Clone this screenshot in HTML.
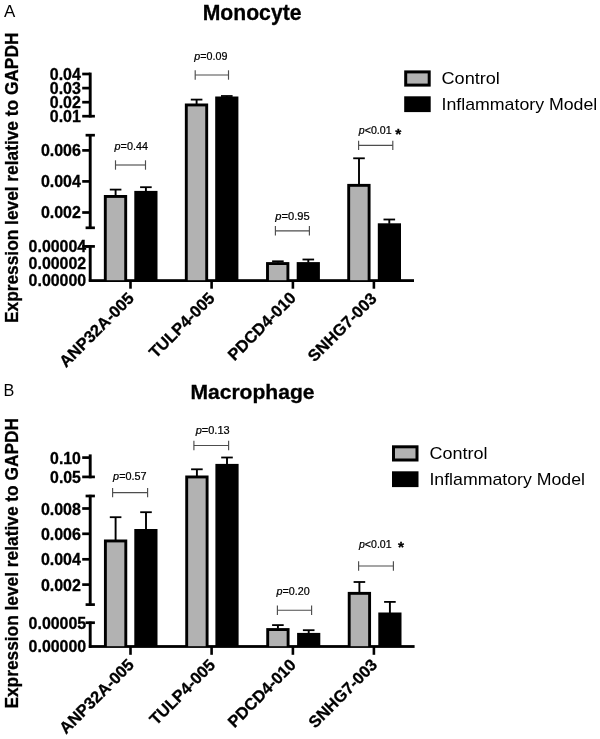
<!DOCTYPE html>
<html><head><meta charset="utf-8"><title>Expression level charts</title>
<style>
html,body{margin:0;padding:0;background:#fff;}
body{width:600px;height:739px;overflow:hidden;}
svg{display:block;font-family:"Liberation Sans",sans-serif;}
</style></head><body>
<svg width="600" height="739" viewBox="0 0 600 739">
<rect width="600" height="739" fill="#fff"/>
<text class="t1" x="3.90" y="16.70" font-size="16.9" fill="#000">A</text>
<text class="t2" x="202.70" y="20.00" font-size="21.4" font-weight="bold" stroke="#000" stroke-width="0.3" textLength="98.80" lengthAdjust="spacingAndGlyphs" fill="#000">Monocyte</text>
<text class="t3" x="17.60" y="323.00" font-size="17.6" font-weight="bold" stroke="#000" stroke-width="0.3" textLength="290.40" lengthAdjust="spacingAndGlyphs" transform="rotate(-90 17.6 323)" fill="#000">Expression level relative to GAPDH</text>
<rect x="88.75" y="72.60" width="2.90" height="44.90" fill="#000"/>
<rect x="82.20" y="72.65" width="8.00" height="2.70" fill="#000"/>
<rect x="82.20" y="86.75" width="8.00" height="2.70" fill="#000"/>
<rect x="82.20" y="100.85" width="8.00" height="2.70" fill="#000"/>
<rect x="82.20" y="114.85" width="8.00" height="2.70" fill="#000"/>
<rect x="90.20" y="114.85" width="4.70" height="2.70" fill="#000"/>
<rect x="88.75" y="134.00" width="2.90" height="95.00" fill="#000"/>
<rect x="85.60" y="133.85" width="9.30" height="2.70" fill="#000"/>
<rect x="85.60" y="226.45" width="9.30" height="2.70" fill="#000"/>
<rect x="82.20" y="149.05" width="8.00" height="2.70" fill="#000"/>
<rect x="82.20" y="180.05" width="8.00" height="2.70" fill="#000"/>
<rect x="82.20" y="211.15" width="8.00" height="2.70" fill="#000"/>
<rect x="88.75" y="245.20" width="2.90" height="36.30" fill="#000"/>
<rect x="85.60" y="245.05" width="9.30" height="2.70" fill="#000"/>
<rect x="82.20" y="245.05" width="8.00" height="2.70" fill="#000"/>
<rect x="88.80" y="279.20" width="325.20" height="2.80" fill="#000"/>
<rect x="129.20" y="281.00" width="2.60" height="7.70" fill="#000"/>
<rect x="210.30" y="281.00" width="2.60" height="7.70" fill="#000"/>
<rect x="291.60" y="281.00" width="2.60" height="7.70" fill="#000"/>
<rect x="372.60" y="281.00" width="2.60" height="7.70" fill="#000"/>
<text class="t4" x="80.90" y="80.20" font-size="16.0" font-weight="bold" stroke="#000" stroke-width="0.3" text-anchor="end" textLength="31.10" lengthAdjust="spacingAndGlyphs" fill="#000">0.04</text>
<text class="t5" x="80.90" y="94.30" font-size="16.0" font-weight="bold" stroke="#000" stroke-width="0.3" text-anchor="end" textLength="31.10" lengthAdjust="spacingAndGlyphs" fill="#000">0.03</text>
<text class="t6" x="80.90" y="108.40" font-size="16.0" font-weight="bold" stroke="#000" stroke-width="0.3" text-anchor="end" textLength="31.10" lengthAdjust="spacingAndGlyphs" fill="#000">0.02</text>
<text class="t7" x="80.90" y="122.40" font-size="16.0" font-weight="bold" stroke="#000" stroke-width="0.3" text-anchor="end" textLength="31.10" lengthAdjust="spacingAndGlyphs" fill="#000">0.01</text>
<text class="t8" x="80.90" y="156.40" font-size="16.0" font-weight="bold" stroke="#000" stroke-width="0.3" text-anchor="end" textLength="40.00" lengthAdjust="spacingAndGlyphs" fill="#000">0.006</text>
<text class="t9" x="80.90" y="187.40" font-size="16.0" font-weight="bold" stroke="#000" stroke-width="0.3" text-anchor="end" textLength="40.00" lengthAdjust="spacingAndGlyphs" fill="#000">0.004</text>
<text class="t10" x="80.90" y="218.40" font-size="16.0" font-weight="bold" stroke="#000" stroke-width="0.3" text-anchor="end" textLength="40.00" lengthAdjust="spacingAndGlyphs" fill="#000">0.002</text>
<text class="t11" x="86.20" y="252.20" font-size="16.0" font-weight="bold" stroke="#000" stroke-width="0.3" text-anchor="end" textLength="57.60" lengthAdjust="spacingAndGlyphs" fill="#000">0.00004</text>
<text class="t12" x="86.20" y="269.20" font-size="16.0" font-weight="bold" stroke="#000" stroke-width="0.3" text-anchor="end" textLength="57.60" lengthAdjust="spacingAndGlyphs" fill="#000">0.00002</text>
<text class="t13" x="86.20" y="285.60" font-size="16.0" font-weight="bold" stroke="#000" stroke-width="0.3" text-anchor="end" textLength="57.60" lengthAdjust="spacingAndGlyphs" fill="#000">0.00000</text>
<rect x="103.85" y="195.00" width="23.30" height="85.20" fill="#000"/>
<rect x="106.75" y="197.90" width="17.50" height="82.30" fill="#b2b2b2"/>
<rect x="114.65" y="189.60" width="1.90" height="5.90" fill="#000"/>
<rect x="109.80" y="188.70" width="11.60" height="1.80" fill="#000"/>
<rect x="134.30" y="190.90" width="23.20" height="89.30" fill="#000"/>
<rect x="144.95" y="187.20" width="1.90" height="4.20" fill="#000"/>
<rect x="140.10" y="186.30" width="11.60" height="1.80" fill="#000"/>
<rect x="184.85" y="103.50" width="23.30" height="176.70" fill="#000"/>
<rect x="187.75" y="106.40" width="17.50" height="173.80" fill="#b2b2b2"/>
<rect x="195.65" y="99.60" width="1.90" height="4.40" fill="#000"/>
<rect x="190.80" y="98.70" width="11.60" height="1.80" fill="#000"/>
<rect x="215.20" y="96.50" width="23.20" height="183.70" fill="#000"/>
<rect x="225.85" y="96.00" width="1.90" height="1.00" fill="#000"/>
<rect x="221.00" y="95.10" width="11.60" height="1.80" fill="#000"/>
<rect x="266.05" y="262.10" width="23.30" height="18.10" fill="#000"/>
<rect x="268.95" y="265.00" width="17.50" height="15.20" fill="#b2b2b2"/>
<rect x="276.95" y="261.30" width="1.90" height="1.30" fill="#000"/>
<rect x="272.10" y="260.40" width="11.60" height="1.80" fill="#000"/>
<rect x="296.70" y="262.10" width="23.20" height="18.10" fill="#000"/>
<rect x="307.35" y="259.50" width="1.90" height="3.10" fill="#000"/>
<rect x="302.50" y="258.60" width="11.60" height="1.80" fill="#000"/>
<rect x="347.25" y="183.90" width="23.30" height="96.30" fill="#000"/>
<rect x="350.15" y="186.80" width="17.50" height="93.40" fill="#b2b2b2"/>
<rect x="358.05" y="158.30" width="1.90" height="26.10" fill="#000"/>
<rect x="353.20" y="157.40" width="11.60" height="1.80" fill="#000"/>
<rect x="377.80" y="223.30" width="23.20" height="56.90" fill="#000"/>
<rect x="388.35" y="219.50" width="1.90" height="4.30" fill="#000"/>
<rect x="383.50" y="218.60" width="11.60" height="1.80" fill="#000"/>
<line x1="115.50" y1="165.00" x2="145.50" y2="165.00" stroke="#4d4d4d" stroke-width="1.15"/>
<line x1="115.50" y1="160.30" x2="115.50" y2="169.70" stroke="#4d4d4d" stroke-width="1.15"/>
<line x1="145.50" y1="160.30" x2="145.50" y2="169.70" stroke="#4d4d4d" stroke-width="1.15"/>
<line x1="195.20" y1="75.00" x2="228.50" y2="75.00" stroke="#4d4d4d" stroke-width="1.15"/>
<line x1="195.20" y1="70.30" x2="195.20" y2="79.70" stroke="#4d4d4d" stroke-width="1.15"/>
<line x1="228.50" y1="70.30" x2="228.50" y2="79.70" stroke="#4d4d4d" stroke-width="1.15"/>
<line x1="275.40" y1="230.80" x2="309.40" y2="230.80" stroke="#4d4d4d" stroke-width="1.15"/>
<line x1="275.40" y1="226.10" x2="275.40" y2="235.50" stroke="#4d4d4d" stroke-width="1.15"/>
<line x1="309.40" y1="226.10" x2="309.40" y2="235.50" stroke="#4d4d4d" stroke-width="1.15"/>
<line x1="358.60" y1="145.40" x2="392.80" y2="145.40" stroke="#4d4d4d" stroke-width="1.15"/>
<line x1="358.60" y1="140.70" x2="358.60" y2="150.10" stroke="#4d4d4d" stroke-width="1.15"/>
<line x1="392.80" y1="140.70" x2="392.80" y2="150.10" stroke="#4d4d4d" stroke-width="1.15"/>
<text class="pt1" x="114.60" y="149.50" font-size="10.2" fill="#000" stroke="#000" stroke-width="0.22" textLength="33.30" lengthAdjust="spacingAndGlyphs"><tspan font-style="italic">p</tspan>=0.44</text>
<text class="pt2" x="194.30" y="60.10" font-size="10.2" fill="#000" stroke="#000" stroke-width="0.22" textLength="33.10" lengthAdjust="spacingAndGlyphs"><tspan font-style="italic">p</tspan>=0.09</text>
<text class="pt3" x="275.30" y="220.10" font-size="10.2" fill="#000" stroke="#000" stroke-width="0.22" textLength="34.30" lengthAdjust="spacingAndGlyphs"><tspan font-style="italic">p</tspan>=0.95</text>
<text class="pt4" x="358.80" y="134.20" font-size="10.2" fill="#000" stroke="#000" stroke-width="0.22" textLength="32.80" lengthAdjust="spacingAndGlyphs"><tspan font-style="italic">p</tspan>&lt;0.01</text>
<text class="t14" x="395.20" y="139.30" font-size="15.5" font-weight="bold" stroke="#000" stroke-width="0.3" fill="#000">*</text>
<rect x="404.20" y="70.40" width="26.50" height="16.20" fill="#000"/>
<rect x="407.20" y="73.40" width="20.50" height="10.20" fill="#b2b2b2"/>
<rect x="404.20" y="96.30" width="26.50" height="15.80" fill="#000"/>
<text class="t15" x="441.50" y="84.30" font-size="16.6" textLength="58.40" lengthAdjust="spacingAndGlyphs" fill="#000">Control</text>
<text class="t16" x="441.50" y="110.10" font-size="16.6" textLength="155.80" lengthAdjust="spacingAndGlyphs" fill="#000">Inflammatory Model</text>
<text class="xl1" x="134.90" y="299.40" font-size="16.4" font-weight="bold" stroke="#000" stroke-width="0.3" text-anchor="end" transform="rotate(-45 134.90 299.40)" fill="#000">ANP32A-005</text>
<text class="xl2" x="215.60" y="299.20" font-size="16.4" font-weight="bold" stroke="#000" stroke-width="0.3" text-anchor="end" transform="rotate(-45 215.60 299.20)" fill="#000">TULP4-005</text>
<text class="xl3" x="296.90" y="298.90" font-size="16.4" font-weight="bold" stroke="#000" stroke-width="0.3" text-anchor="end" transform="rotate(-45 296.90 298.90)" fill="#000">PDCD4-010</text>
<text class="xl4" x="377.70" y="299.60" font-size="16.4" font-weight="bold" stroke="#000" stroke-width="0.3" text-anchor="end" transform="rotate(-45 377.70 299.60)" fill="#000">SNHG7-003</text>
<text class="t21" x="3.40" y="396.00" font-size="16.2" fill="#000">B</text>
<text class="t22" x="190.40" y="399.40" font-size="20.4" font-weight="bold" stroke="#000" stroke-width="0.3" textLength="124.20" lengthAdjust="spacingAndGlyphs" fill="#000">Macrophage</text>
<text class="t23" x="17.60" y="708.60" font-size="17.6" font-weight="bold" stroke="#000" stroke-width="0.3" textLength="290.60" lengthAdjust="spacingAndGlyphs" transform="rotate(-90 17.6 708.6)" fill="#000">Expression level relative to GAPDH</text>
<rect x="88.75" y="454.40" width="2.90" height="23.90" fill="#000"/>
<rect x="82.20" y="456.25" width="8.00" height="2.70" fill="#000"/>
<rect x="82.20" y="475.55" width="8.00" height="2.70" fill="#000"/>
<rect x="90.20" y="475.55" width="4.70" height="2.70" fill="#000"/>
<rect x="88.75" y="494.80" width="2.90" height="111.00" fill="#000"/>
<rect x="85.60" y="494.65" width="9.30" height="2.70" fill="#000"/>
<rect x="85.60" y="603.25" width="9.30" height="2.70" fill="#000"/>
<rect x="82.20" y="507.15" width="8.00" height="2.70" fill="#000"/>
<rect x="82.20" y="532.45" width="8.00" height="2.70" fill="#000"/>
<rect x="82.20" y="557.95" width="8.00" height="2.70" fill="#000"/>
<rect x="82.20" y="583.25" width="8.00" height="2.70" fill="#000"/>
<rect x="88.75" y="621.50" width="2.90" height="26.40" fill="#000"/>
<rect x="85.60" y="621.35" width="9.30" height="2.70" fill="#000"/>
<rect x="88.80" y="645.10" width="325.80" height="2.80" fill="#000"/>
<rect x="129.20" y="647.00" width="2.60" height="7.80" fill="#000"/>
<rect x="210.30" y="647.00" width="2.60" height="7.80" fill="#000"/>
<rect x="291.60" y="647.00" width="2.60" height="7.80" fill="#000"/>
<rect x="372.60" y="647.00" width="2.60" height="7.80" fill="#000"/>
<text class="t24" x="80.90" y="464.30" font-size="16.0" font-weight="bold" stroke="#000" stroke-width="0.3" text-anchor="end" textLength="30.80" lengthAdjust="spacingAndGlyphs" fill="#000">0.10</text>
<text class="t25" x="80.90" y="483.30" font-size="16.0" font-weight="bold" stroke="#000" stroke-width="0.3" text-anchor="end" textLength="30.80" lengthAdjust="spacingAndGlyphs" fill="#000">0.05</text>
<text class="t26" x="80.90" y="514.60" font-size="16.0" font-weight="bold" stroke="#000" stroke-width="0.3" text-anchor="end" textLength="40.00" lengthAdjust="spacingAndGlyphs" fill="#000">0.008</text>
<text class="t27" x="80.90" y="540.00" font-size="16.0" font-weight="bold" stroke="#000" stroke-width="0.3" text-anchor="end" textLength="40.00" lengthAdjust="spacingAndGlyphs" fill="#000">0.006</text>
<text class="t28" x="80.90" y="565.40" font-size="16.0" font-weight="bold" stroke="#000" stroke-width="0.3" text-anchor="end" textLength="40.00" lengthAdjust="spacingAndGlyphs" fill="#000">0.004</text>
<text class="t29" x="80.90" y="590.80" font-size="16.0" font-weight="bold" stroke="#000" stroke-width="0.3" text-anchor="end" textLength="40.00" lengthAdjust="spacingAndGlyphs" fill="#000">0.002</text>
<text class="t30" x="86.20" y="628.50" font-size="16.0" font-weight="bold" stroke="#000" stroke-width="0.3" text-anchor="end" textLength="57.60" lengthAdjust="spacingAndGlyphs" fill="#000">0.00005</text>
<text class="t31" x="86.20" y="651.80" font-size="16.0" font-weight="bold" stroke="#000" stroke-width="0.3" text-anchor="end" textLength="57.60" lengthAdjust="spacingAndGlyphs" fill="#000">0.00000</text>
<rect x="103.95" y="539.50" width="23.30" height="106.70" fill="#000"/>
<rect x="106.85" y="542.40" width="17.50" height="103.80" fill="#b2b2b2"/>
<rect x="114.65" y="517.20" width="1.90" height="22.80" fill="#000"/>
<rect x="109.80" y="516.30" width="11.60" height="1.80" fill="#000"/>
<rect x="134.30" y="529.00" width="23.20" height="117.20" fill="#000"/>
<rect x="145.05" y="512.20" width="1.90" height="17.30" fill="#000"/>
<rect x="140.20" y="511.30" width="11.60" height="1.80" fill="#000"/>
<rect x="185.25" y="475.50" width="23.30" height="170.70" fill="#000"/>
<rect x="188.15" y="478.40" width="17.50" height="167.80" fill="#b2b2b2"/>
<rect x="195.95" y="469.30" width="1.90" height="6.70" fill="#000"/>
<rect x="191.10" y="468.40" width="11.60" height="1.80" fill="#000"/>
<rect x="215.40" y="463.90" width="23.20" height="182.30" fill="#000"/>
<rect x="226.05" y="457.50" width="1.90" height="6.90" fill="#000"/>
<rect x="221.20" y="456.60" width="11.60" height="1.80" fill="#000"/>
<rect x="266.25" y="628.10" width="23.30" height="18.10" fill="#000"/>
<rect x="269.15" y="631.00" width="17.50" height="15.20" fill="#b2b2b2"/>
<rect x="276.95" y="625.10" width="1.90" height="3.50" fill="#000"/>
<rect x="272.10" y="624.20" width="11.60" height="1.80" fill="#000"/>
<rect x="297.10" y="632.90" width="23.20" height="13.30" fill="#000"/>
<rect x="307.75" y="630.20" width="1.90" height="3.20" fill="#000"/>
<rect x="302.90" y="629.30" width="11.60" height="1.80" fill="#000"/>
<rect x="347.75" y="591.90" width="23.30" height="54.30" fill="#000"/>
<rect x="350.65" y="594.80" width="17.50" height="51.40" fill="#b2b2b2"/>
<rect x="358.45" y="582.00" width="1.90" height="10.40" fill="#000"/>
<rect x="353.60" y="581.10" width="11.60" height="1.80" fill="#000"/>
<rect x="378.30" y="612.50" width="23.20" height="33.70" fill="#000"/>
<rect x="388.95" y="601.90" width="1.90" height="11.10" fill="#000"/>
<rect x="384.10" y="601.00" width="11.60" height="1.80" fill="#000"/>
<line x1="112.60" y1="492.60" x2="147.60" y2="492.60" stroke="#4d4d4d" stroke-width="1.15"/>
<line x1="112.60" y1="487.90" x2="112.60" y2="497.30" stroke="#4d4d4d" stroke-width="1.15"/>
<line x1="147.60" y1="487.90" x2="147.60" y2="497.30" stroke="#4d4d4d" stroke-width="1.15"/>
<line x1="193.90" y1="445.50" x2="228.60" y2="445.50" stroke="#4d4d4d" stroke-width="1.15"/>
<line x1="193.90" y1="440.80" x2="193.90" y2="450.20" stroke="#4d4d4d" stroke-width="1.15"/>
<line x1="228.60" y1="440.80" x2="228.60" y2="450.20" stroke="#4d4d4d" stroke-width="1.15"/>
<line x1="277.40" y1="610.20" x2="311.60" y2="610.20" stroke="#4d4d4d" stroke-width="1.15"/>
<line x1="277.40" y1="605.50" x2="277.40" y2="614.90" stroke="#4d4d4d" stroke-width="1.15"/>
<line x1="311.60" y1="605.50" x2="311.60" y2="614.90" stroke="#4d4d4d" stroke-width="1.15"/>
<line x1="358.60" y1="566.00" x2="393.40" y2="566.00" stroke="#4d4d4d" stroke-width="1.15"/>
<line x1="358.60" y1="561.30" x2="358.60" y2="570.70" stroke="#4d4d4d" stroke-width="1.15"/>
<line x1="393.40" y1="561.30" x2="393.40" y2="570.70" stroke="#4d4d4d" stroke-width="1.15"/>
<text class="pt5" x="113.10" y="479.70" font-size="10.2" fill="#000" stroke="#000" stroke-width="0.22" textLength="33.50" lengthAdjust="spacingAndGlyphs"><tspan font-style="italic">p</tspan>=0.57</text>
<text class="pt6" x="195.70" y="434.30" font-size="10.2" fill="#000" stroke="#000" stroke-width="0.22" textLength="33.90" lengthAdjust="spacingAndGlyphs"><tspan font-style="italic">p</tspan>=0.13</text>
<text class="pt7" x="276.50" y="595.10" font-size="10.2" fill="#000" stroke="#000" stroke-width="0.22" textLength="33.10" lengthAdjust="spacingAndGlyphs"><tspan font-style="italic">p</tspan>=0.20</text>
<text class="pt8" x="359.00" y="547.60" font-size="10.2" fill="#000" stroke="#000" stroke-width="0.22" textLength="32.60" lengthAdjust="spacingAndGlyphs"><tspan font-style="italic">p</tspan>&lt;0.01</text>
<text class="t32" x="398.00" y="551.50" font-size="15.5" font-weight="bold" stroke="#000" stroke-width="0.3" fill="#000">*</text>
<rect x="392.00" y="445.30" width="26.50" height="16.20" fill="#000"/>
<rect x="395.00" y="448.30" width="20.50" height="10.20" fill="#b2b2b2"/>
<rect x="392.00" y="471.30" width="26.50" height="15.80" fill="#000"/>
<text class="t33" x="429.40" y="459.20" font-size="16.6" textLength="58.00" lengthAdjust="spacingAndGlyphs" fill="#000">Control</text>
<text class="t34" x="429.40" y="485.10" font-size="16.6" textLength="155.60" lengthAdjust="spacingAndGlyphs" fill="#000">Inflammatory Model</text>
<text class="xl5" x="135.00" y="665.90" font-size="16.4" font-weight="bold" stroke="#000" stroke-width="0.3" text-anchor="end" transform="rotate(-45 135.00 665.90)" fill="#000">ANP32A-005</text>
<text class="xl6" x="216.10" y="666.00" font-size="16.4" font-weight="bold" stroke="#000" stroke-width="0.3" text-anchor="end" transform="rotate(-45 216.10 666.00)" fill="#000">TULP4-005</text>
<text class="xl7" x="297.00" y="665.90" font-size="16.4" font-weight="bold" stroke="#000" stroke-width="0.3" text-anchor="end" transform="rotate(-45 297.00 665.90)" fill="#000">PDCD4-010</text>
<text class="xl8" x="378.30" y="665.90" font-size="16.4" font-weight="bold" stroke="#000" stroke-width="0.3" text-anchor="end" transform="rotate(-45 378.30 665.90)" fill="#000">SNHG7-003</text>
</svg>
</body></html>
